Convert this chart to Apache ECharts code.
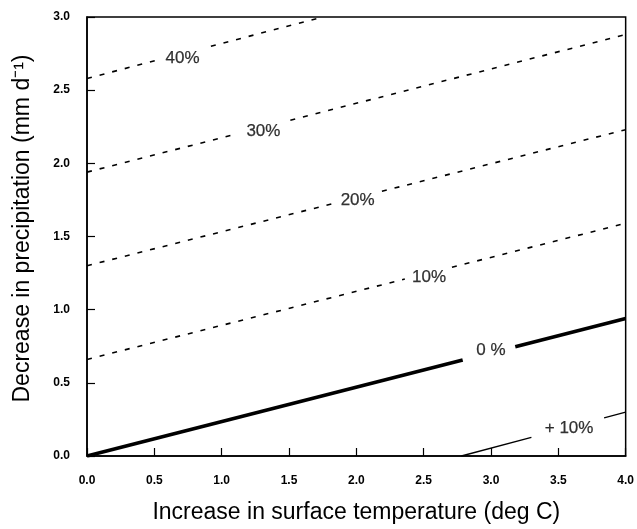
<!DOCTYPE html>
<html>
<head>
<meta charset="utf-8">
<script src="https://cdn.jsdelivr.net/npm/echarts@6/dist/echarts.min.js"></script>
<style>html,body{margin:0;padding:0;background:#fff;}#c{width:637px;height:529px;}</style>
</head>
<body>
<div id="c"></div>
<script>
// Contour lines: [start, gapStart, gapEnd, end] points (temperature, precipitation decrease)
const contourNames = ['40%', '30%', '20%', '10%', '0 %', '+ 10%'];
const contour40 = [[0, 2.58], [0.52, 2.705], [0.92, 2.80], [1.75, 3.0]];
const contour30 = [[0, 1.94], [1.12, 2.203], [1.51, 2.295], [4, 2.88]];
const contour20 = [[0, 1.30], [1.84, 1.728], [2.19, 1.809], [4, 2.23]];
const contour10 = [[0, 0.66], [2.36, 1.209], [2.71, 1.290], [4, 1.59]];
const contour0 = [[0, 0], [2.79, 0.656], [3.18, 0.747], [4, 0.94]];
const contourP10 = [[2.78, 0], [3.30, 0.128], [3.84, 0.261], [4, 0.30]];
const labelX = [0.71, 1.31, 2.01, 2.54, 3.0, 3.58];
const labelY = [2.72, 2.22, 1.745, 1.22, 0.72, 0.19];
const xTicks = [0, 0.5, 1.0, 1.5, 2.0, 2.5, 3.0, 3.5, 4.0];
const yTicks = [0, 0.5, 1.0, 1.5, 2.0, 2.5, 3.0];

const contours = [contour40, contour30, contour20, contour10, contour0, contourP10];
const styles = [
  {width: 1.6, type: [5, 8]},
  {width: 1.6, type: [5, 8]},
  {width: 1.6, type: [5, 8]},
  {width: 1.6, type: [5, 8]},
  {width: 3.6, type: 'solid'},
  {width: 1.3, type: 'solid'}
];

const series = [];
contours.forEach(function (c, i) {
  [[c[0], c[1]], [c[2], c[3]]].forEach(function (seg) {
    series.push({
      type: 'line', data: seg, symbol: 'none', silent: true,
      lineStyle: {color: '#000', width: styles[i].width, type: styles[i].type, cap: 'butt'}
    });
  });
});
series.push({
  type: 'scatter', symbolSize: 1, silent: true,
  itemStyle: {color: 'transparent'},
  data: labelX.map(function (x, i) { return {value: [x, labelY[i]], name: contourNames[i]}; }),
  label: {show: true, position: 'inside', formatter: function (p) { return p.name; },
    color: '#000', textBorderColor: '#000', textBorderWidth: 0.25,
    fontSize: 17, fontFamily: 'Liberation Sans, Arial, sans-serif'}
});

const chart = echarts.init(document.getElementById('c'), null, {renderer: 'canvas'});
chart.setOption({
  animation: false,
  backgroundColor: '#fff',
  grid: {left: 87, right: 11, top: 17, bottom: 66, show: true, borderColor: '#000', borderWidth: 1.5, containLabel: false},
  xAxis: {
    type: 'value', min: 0, max: 4, interval: 0.5,
    name: 'Increase in surface temperature (deg C)', nameLocation: 'middle', nameGap: 45,
    nameTextStyle: {fontSize: 23, color: '#000', fontFamily: 'Liberation Sans, Arial, sans-serif'},
    axisLine: {show: true, lineStyle: {color: '#000', width: 1.5}},
    axisTick: {show: true, inside: true, length: 8, lineStyle: {color: '#000', width: 1.2}},
    splitLine: {show: false},
    axisLabel: {margin: 19, color: '#000', fontSize: 12, fontWeight: 'bold', fontFamily: 'Liberation Sans, Arial, sans-serif',
      formatter: function (v) { return xTicks.indexOf(v) >= 0 ? v.toFixed(1) : ''; }}
  },
  yAxis: {
    type: 'value', min: 0, max: 3, interval: 0.5,
    name: 'Decrease in precipitation (mm d\u207B\u00B9)', nameLocation: 'middle', nameGap: 53,
    nameTextStyle: {fontSize: 23, color: '#000', fontFamily: 'Liberation Sans, Arial, sans-serif', padding: [0, 0, 0, 16]},
    axisLine: {show: true, lineStyle: {color: '#000', width: 1.5}},
    axisTick: {show: true, inside: true, length: 8, lineStyle: {color: '#000', width: 1.2}},
    splitLine: {show: false},
    axisLabel: {margin: 17, color: '#000', fontSize: 12, fontWeight: 'bold', fontFamily: 'Liberation Sans, Arial, sans-serif',
      formatter: function (v) { return yTicks.indexOf(v) >= 0 ? v.toFixed(1) : ''; }}
  },
  series: series
});
</script>
</body>
</html>
